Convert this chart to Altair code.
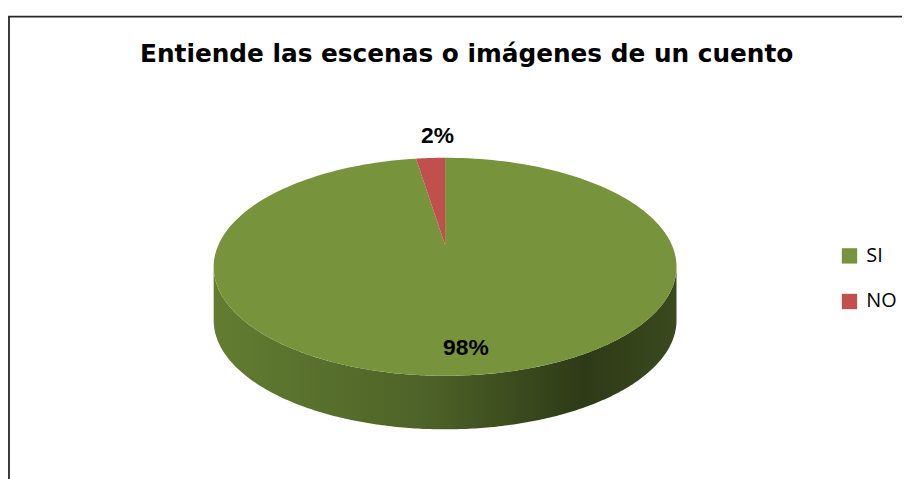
import altair as alt
import pandas as pd

# ---- data ----
categories = ["SI", "NO"]
values = [98, 2]
colors = ["#77933C", "#C0504D"]
title_text = "Entiende las escenas o imágenes de un cuento"

# ---- layout (view coordinates, pixels) ----
W, H = 902, 471
CX, CY, RX, RY, DEPTH = 441, 259, 233.5, 110, 54
APEX_Y = CY - 22
N = 240

df = pd.DataFrame({"cat": categories, "value": values, "ord": list(range(len(categories)))})

xs = alt.Scale(domain=[0, W], nice=False, zero=False)
ys = alt.Scale(domain=[0, H], nice=False, zero=False, reverse=True)
cscale = alt.Scale(domain=categories, range=colors)


def slices(chart):
    return (
        chart.transform_joinaggregate(total="sum(value)")
        .transform_window(cum="sum(value)", sort=[alt.SortField("ord")], frame=[None, 0])
        .transform_calculate(a0="2*PI*(datum.cum - datum.value)/datum.total")
        .transform_calculate(a1="2*PI*datum.cum/datum.total")
    )


side_gradient = alt.LinearGradient(
    gradient="linear",
    x1=0, x2=1, y1=0, y2=0,
    stops=[
        alt.GradientStop(color="#627d31", offset=0),
        alt.GradientStop(color="#4e6328", offset=0.45),
        alt.GradientStop(color="#2e3a17", offset=0.8),
        alt.GradientStop(color="#3a4a1d", offset=1),
    ],
)

side = (
    alt.Chart(alt.sequence(0, N + 1, as_="k"))
    .transform_calculate(a=f"PI/2 + PI*datum.k/{N}")
    .transform_calculate(px=f"{CX} + {RX}*sin(datum.a)")
    .transform_calculate(py=f"{CY} - {RY}*cos(datum.a)")
    .transform_calculate(py2=f"datum.py + {DEPTH}")
    .mark_area(color=side_gradient)
    .encode(
        x=alt.X("px:Q", scale=xs, axis=None),
        y=alt.Y("py:Q", scale=ys, axis=None),
        y2="py2:Q",
    )
)

top = (
    slices(alt.Chart(df))
    .transform_calculate(i=f"sequence(0, {N + 2})")
    .transform_flatten(["i"])
    .transform_calculate(ang=f"datum.a0 + (datum.a1 - datum.a0)*max(datum.i - 1, 0)/{N}")
    .transform_calculate(px=f"datum.i == 0 ? {CX} : {CX} + {RX}*sin(datum.ang)")
    .transform_calculate(py=f"datum.i == 0 ? {APEX_Y} : {CY} - {RY}*cos(datum.ang)")
    .mark_line(strokeWidth=0)
    .encode(
        x=alt.X("px:Q", scale=xs, axis=None),
        y=alt.Y("py:Q", scale=ys, axis=None),
        order=alt.Order("i:Q"),
        detail="cat:N",
        fill=alt.Fill(
            "cat:N",
            scale=cscale,
            legend=alt.Legend(
                title=None,
                orient="none",
                legendX=839,
                legendY=238,
                symbolType="square",
                symbolSize=240,
                symbolStrokeWidth=0,
                symbolOpacity=1,
                labelFont="Open Sans",
                labelFontSize=20,
                labelColor="#000000",
                labelOffset=7,
                rowPadding=26,
                padding=0,
            ),
        ),
    )
)

labels = (
    slices(alt.Chart(df))
    .transform_calculate(m="(datum.a0 + datum.a1)/2")
    .transform_calculate(f="datum.value/datum.total > 0.1 ? 0.75 : 1.2")
    .transform_calculate(lx=f"{CX} + {RX}*datum.f*sin(datum.m)")
    .transform_calculate(ly=f"{CY} - {RY}*datum.f*cos(datum.m)")
    .transform_calculate(pct="format(datum.value/datum.total, '.0%')")
    .mark_text(
        font="Liberation Sans Narrow, Arial Narrow, Liberation Sans, Arial",
        fontSize=23,
        fontWeight="bold",
        color="#000000",
        baseline="middle",
        align="center",
        dx=10,
    )
    .encode(
        x=alt.X("lx:Q", scale=xs, axis=None),
        y=alt.Y("ly:Q", scale=ys, axis=None),
        text="pct:N",
    )
)

title = (
    alt.Chart(alt.Data(values=[{"t": title_text}]))
    .mark_text(
        font="DejaVu Sans",
        fontSize=25,
        fontWeight="bold",
        color="#000000",
        align="center",
        baseline="alphabetic",
    )
    .encode(x=alt.value(462.8), y=alt.value(52.7), text="t:N")
)

frame_v = (
    alt.Chart(alt.Data(values=[{}]))
    .mark_rule(color="#262626", strokeWidth=1.8)
    .encode(x=alt.value(1), y=alt.value(6.5), y2=alt.value(H + 5))
)
frame_h = (
    alt.Chart(alt.Data(values=[{}]))
    .mark_rule(color="#262626", strokeWidth=1.8)
    .encode(x=alt.value(0.1), x2=alt.value(W + 5), y=alt.value(6.5))
)

chart = (
    alt.layer(side, top, labels, title, frame_v, frame_h)
    .properties(width=W, height=H, padding=0, autosize=alt.AutoSizeParams(type="none"), background="white")
    .configure_view(stroke=None)
)

chart.save("out.html", embed_options={"renderer": "svg", "actions": False})
